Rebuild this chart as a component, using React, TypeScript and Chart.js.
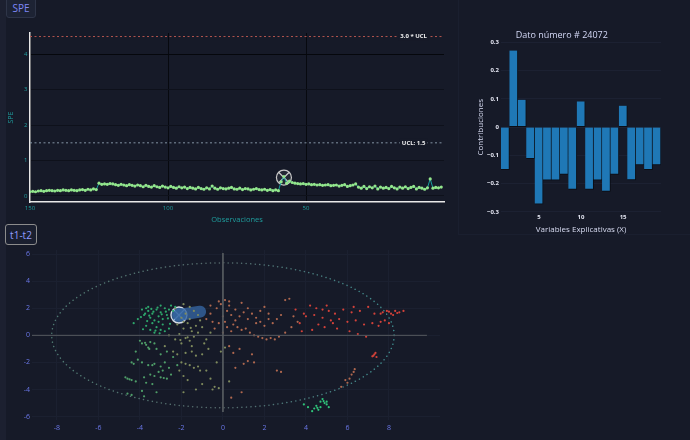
import React, { useEffect, useRef } from "react";
import { Chart, registerables } from "chart.js";

Chart.register(...registerables);

// ---------------- SPE control chart ----------------
const speFirstObs = 150;
const speValues = [
  0.12, 0.13, 0.12, 0.14, 0.15, 0.13, 0.15, 0.16, 0.15, 0.14,
  0.16, 0.15, 0.17, 0.16, 0.15, 0.17, 0.16, 0.15, 0.17, 0.18,
  0.16, 0.19, 0.17, 0.2, 0.18,
  0.36, 0.33, 0.34, 0.33, 0.35, 0.34, 0.32, 0.3, 0.33, 0.31,
  0.29, 0.32, 0.3, 0.28, 0.31, 0.29, 0.26, 0.3, 0.27, 0.25,
  0.29, 0.26, 0.24, 0.28, 0.25, 0.23, 0.27, 0.24, 0.22, 0.26,
  0.23, 0.25, 0.21, 0.24, 0.22,
  0.2, 0.24, 0.21, 0.19, 0.23, 0.2, 0.28, 0.22, 0.19, 0.23,
  0.21, 0.2, 0.22, 0.24, 0.2, 0.19, 0.22, 0.18, 0.21, 0.2,
  0.17, 0.19, 0.21, 0.18, 0.17, 0.19, 0.16, 0.18, 0.15, 0.17,
  0.15, 0.4, 0.55, 0.36, 0.42,
  0.38, 0.36, 0.35, 0.34, 0.35, 0.33, 0.34, 0.32, 0.33, 0.31,
  0.32, 0.3, 0.31, 0.32, 0.29, 0.3, 0.31, 0.28, 0.3, 0.32,
  0.27, 0.29, 0.31, 0.34, 0.25,
  0.22, 0.27, 0.21, 0.26, 0.23, 0.28, 0.2, 0.25, 0.22, 0.24,
  0.21, 0.27, 0.23, 0.2, 0.25, 0.22, 0.26, 0.21, 0.24, 0.27,
  0.2, 0.24, 0.22, 0.19, 0.23,
  0.48, 0.22, 0.24, 0.23, 0.25,
];
const speTicksX = [150, 100, 50];
const speTicksY = [0, 1, 2, 3, 4];
const uclValue = 1.5;
const uclMultValue = 4.5;
const limitLabels = ["3.0 * UCL", "UCL: 1.5"];
const limitLabelObs = 11;
const selectedObs = 58;
const selectedSpe = 0.52;

// ---------------- Contributions bar chart ----------------
const contribTitle = "Dato número # 24072";
const contribVars = [1, 2, 3, 4, 5, 6, 7, 8, 9, 10, 11, 12, 13, 14, 15, 16, 17, 18, 19];
const contribValues = [
  -0.151, 0.271, 0.097, -0.112, -0.273, -0.188, -0.188, -0.168, -0.221, 0.091,
  -0.221, -0.188, -0.228, -0.168, 0.076, -0.187, -0.134, -0.151, -0.134,
];
const contribTicksX = [5, 10, 15];
const contribTicksY = [-0.3, -0.2, -0.1, 0, 0.1, 0.2, 0.3];

// ---------------- Scores t1-t2 ----------------
const scoresGreen = [
  [-3.6, 1.8], [-3.4, 1.6], [-3.2, 1.9], [-3.0, 1.7], [-2.8, 2.0], [-3.5, 1.3], [-3.3, 1.1], [-3.1, 1.4], [-2.9, 1.2], [-2.7, 1.5],
  [-3.8, 1.5], [-3.9, 1.9], [-3.6, 2.1], [-3.0, 2.2], [-2.6, 1.9], [-2.5, 2.2], [-3.4, 0.9], [-3.2, 0.6], [-3.0, 0.4], [-3.5, 0.4],
  [-3.3, 0.2], [-2.8, 0.3], [-2.6, 0.5], [-4.3, 0.9], [-4.1, 1.2], [-3.7, 0.7], [-2.4, 1.8], [-2.3, 2.1], [-3.1, 1.0], [-2.9, 0.8],
  [-3.45, 1.95], [-3.15, 2.05], [-2.75, 1.75], [-3.65, 1.05], [-3.25, 0.35], [-3.75, 1.6], [-3.55, 1.45], [-3.35, 1.75], [-2.95, 1.55], [-2.65, 1.25],
  [-3.85, 0.45], [-3.05, 0.15], [-2.55, 0.85], [-3.7, 2.0], [-3.95, 1.35],
];
const scoresGreenLow = [
  [-3.9, -0.6], [-3.7, -0.7], [-3.5, -0.5], [-3.3, -0.6], [-4.0, -0.4], [-3.6, -0.9], [-3.2, -1.0], [-4.1, -1.8], [-3.9, -2.0], [-3.6, -2.2],
  [-3.3, -2.1], [-3.0, -2.3], [-2.8, -2.0], [-2.6, -2.4], [-4.4, -2.0], [-4.6, -3.2], [-4.4, -3.3], [-4.2, -3.4], [-3.8, -3.1], [-3.5, -2.9],
  [-3.3, -3.0], [-3.0, -3.1], [-2.7, -3.2], [-2.5, -2.9], [-4.6, -4.3], [-4.4, -4.4], [-3.9, -4.1], [-3.7, -3.5], [-3.4, -3.6], [-3.1, -2.7],
  [-2.9, -2.6], [-4.2, -1.2], [-3.0, -1.4], [-2.7, -1.2], [-2.4, -1.6], [-3.8, -4.5], [-3.2, -4.2], [-4.7, -3.1], [-4.5, -3.25], [-3.75, -0.55],
  [-3.4, -2.2], [-2.85, -3.15], [-4.3, -2.1], [-3.55, -1.0], [-2.2, -2.2],
];
const scoresOlive = [
  [-2.0, 1.3], [-1.8, 1.6], [-1.6, 1.2], [-1.4, 1.8], [-1.2, 1.5], [-2.2, 0.8], [-1.9, 0.5], [-1.7, 0.9], [-1.5, 0.3], [-1.3, 0.7],
  [-2.1, 0.1], [-1.8, -0.2], [-1.6, -0.4], [-1.4, -0.1], [-2.3, -0.3], [-2.0, -0.6], [-1.2, 0.2], [-1.0, 0.6], [-0.8, -0.3], [-0.6, 0.2],
  [-2.4, -1.2], [-2.2, -1.4], [-2.0, -2.0], [-1.8, -2.1], [-1.6, -2.2], [-1.4, -2.4], [-1.2, -2.3], [-1.0, -1.4], [-1.8, -1.3], [-1.5, -1.2],
  [-1.3, -1.5], [-2.1, -2.6], [-1.9, -3.0], [-1.7, -3.3], [-0.8, -2.6], [-0.6, -3.2], [-0.4, -3.8], [-0.2, -3.9], [-1.0, -3.6], [-1.3, -4.0],
  [-1.9, -4.2], [-0.3, -2.0], [-0.1, -1.2], [0.1, -0.9], [-1.1, -2.6], [-1.5, -0.8], [-0.9, -0.6], [-2.3, 2.0], [-1.9, 2.3], [-1.6, 2.1],
  [-2.6, 0.0], [-2.8, -0.8], [-1.9, 1.0], [-1.1, 1.1], [-1.7, -0.15], [-2.05, -0.35], [-1.55, 0.55], [-0.7, -1.0], [0.3, -3.4], [-0.5, -4.0],
];
const scoresSalmon = [
  [-0.8, 1.2], [-0.6, 1.6], [-0.5, 1.0], [-0.3, 2.0], [-0.1, 2.3], [0.1, 2.6], [0.3, 2.2], [0.2, 1.8], [0.0, 1.4], [-0.2, 0.9],
  [0.4, 1.5], [0.6, 1.9], [0.8, 1.4], [1.0, 1.7], [1.2, 2.0], [1.4, 1.6], [1.6, 1.3], [1.8, 1.8], [2.0, 2.1], [2.2, 1.6],
  [0.5, 0.8], [0.7, 0.6], [0.9, 0.4], [1.1, 0.5], [1.3, 0.2], [1.5, 0.0], [1.7, -0.1], [1.9, -0.2], [2.1, -0.3], [2.3, -0.2],
  [2.5, -0.3], [0.2, 0.6], [0.4, 0.3], [-0.4, 0.5], [0.0, 0.2], [2.6, 1.2], [2.8, 1.5], [3.0, 2.6], [3.2, 2.7], [2.4, 0.9],
  [2.0, 0.7], [1.6, 0.9], [1.2, 1.2], [0.9, 2.4], [0.3, 2.5], [-0.2, 2.5], [1.8, 1.0], [2.2, 1.2], [0.6, 1.1], [0.1, 1.0],
  [-0.6, 2.2], [3.4, 1.4], [3.6, 1.0], [3.3, 0.6], [3.0, 0.2], [2.7, -0.1], [0.8, -1.0], [0.5, -1.3], [0.3, -0.8], [1.2, -1.9],
  [1.5, -2.0], [1.0, -2.1], [0.6, -2.4], [1.4, -1.4], [6.2, -2.9], [6.3, -2.7], [6.35, -2.5], [6.1, -3.2], [6.0, -3.5], [5.7, -3.8],
  [5.9, -3.3], [2.6, -2.6], [2.8, -2.7], [0.9, -4.2], [0.4, -4.6],
];
const scoresRed = [
  [4.2, 2.2], [4.5, 2.0], [4.8, 1.9], [5.1, 1.8], [5.4, 1.6], [5.8, 1.9], [6.2, 1.7], [6.6, 1.8], [7.0, 2.1], [7.3, 1.6],
  [4.0, 1.4], [4.4, 1.5], [4.8, 1.3], [5.2, 1.1], [5.6, 1.2], [6.0, 1.0], [6.4, 1.1], [6.8, 0.8], [7.2, 0.9], [7.6, 1.0],
  [8.0, 0.9], [7.8, 1.1], [7.5, 0.7], [3.8, 0.3], [4.3, 0.4], [4.9, 0.6], [5.5, 0.5], [6.1, 0.3], [6.5, 0.1], [6.9, -0.1],
  [7.7, 1.7], [7.9, 1.8], [8.1, 1.6], [8.3, 1.8], [8.5, 1.7], [8.7, 1.8], [8.2, 1.5], [7.6, 1.6], [8.0, 1.75], [8.4, 1.65],
  [7.3, -1.4], [7.25, -1.5], [7.4, -1.6], [7.35, -1.3], [7.2, -1.55], [3.5, 1.9], [3.9, 1.6], [5.0, 2.2], [6.3, 2.1], [5.3, 0.9],
  [4.6, 0.8], [3.7, 0.9],
];
const scoresTeal = [
  [4.4, -5.4], [4.5, -5.2], [4.6, -5.5], [4.7, -4.9], [4.8, -4.7], [4.9, -5.0], [5.0, -5.1], [5.1, -5.3], [4.3, -5.6], [4.7, -5.3],
  [4.85, -4.85], [5.0, -4.9], [4.55, -5.35], [3.9, -5.1], [4.1, -5.3],
];
const zeroLineH = [[-9.2, 0], [9.83, 0]];
const zeroLineV = [[0, 6.07], [0, -5.66]];
const ellipseRadiusX = 8.25;
const ellipseRadiusY = 5.35;
const selectedTrail = [[-2.12, 1.5], [-1.1, 1.75]];
const selectedScore = [-2.12, 1.5];
const scoreTicksX = [-8, -6, -4, -2, 0, 2, 4, 6, 8];
const scoreTicksY = [-6, -4, -2, 0, 2, 4, 6];

// ---------------- styles ----------------
const BG = "#161a28";
const FONT = "'Open Sans', 'Noto Sans', sans-serif";
const TEAL = "#1f9e9e";

const toXY = (arr: number[][]) => arr.map(([x, y]) => ({ x, y }));

const speLabelPlugin = {
  id: "speLabels",
  afterDatasetsDraw(chart: any) {
    const { ctx, scales } = chart;
    const px = scales.x.getPixelForValue(limitLabelObs);
    const items: [number, string][] = [
      [uclMultValue, limitLabels[0]],
      [uclValue, limitLabels[1]],
    ];
    ctx.save();
    ctx.font = `bold 6px ${FONT}`;
    items.forEach(([v, t]) => {
      const py = scales.y.getPixelForValue(v);
      const w = ctx.measureText(t).width;
      ctx.fillStyle = BG;
      ctx.fillRect(px - w / 2 - 2, py - 4, w + 4, 8);
      ctx.fillStyle = "#f2f2f2";
      ctx.textAlign = "center";
      ctx.textBaseline = "middle";
      ctx.fillText(t, px, py);
    });
    ctx.restore();
  },
};

const barTitlePlugin = {
  id: "barTitle",
  afterDraw(chart: any) {
    const { ctx, chartArea } = chart;
    ctx.save();
    ctx.font = `9px ${FONT}`;
    ctx.fillStyle = "#d3d8f6";
    ctx.textAlign = "center";
    ctx.textBaseline = "middle";
    ctx.fillText(contribTitle, chartArea.left + (chartArea.right - chartArea.left) * 0.38, chartArea.top - 6);
    ctx.restore();
  },
};

const ellipsePlugin = {
  id: "ellipse",
  beforeDatasetsDraw(chart: any) {
    const { ctx, scales } = chart;
    const cx = scales.x.getPixelForValue(0);
    const cy = scales.y.getPixelForValue(0);
    const rx = scales.x.getPixelForValue(ellipseRadiusX) - cx;
    const ry = cy - scales.y.getPixelForValue(ellipseRadiusY);
    ctx.save();
    const g = ctx.createLinearGradient(cx - rx, 0, cx + rx, 0);
    g.addColorStop(0, "#4f7a72");
    g.addColorStop(0.5, "#566a6c");
    g.addColorStop(1, "#3f8f90");
    ctx.strokeStyle = g;
    ctx.lineWidth = 1.5;
    ctx.lineCap = "round";
    ctx.setLineDash([0.1, 4.4]);
    ctx.beginPath();
    ctx.ellipse(cx, cy, rx, ry, 0, 0, Math.PI * 2);
    ctx.stroke();
    ctx.restore();
  },
};

function speConfig(): any {
  const speData = speValues.map((v, i) => ({ x: speFirstObs - i, y: v }));
  const sel = [{ x: selectedObs, y: selectedSpe }];
  return {
    type: "line",
    data: {
      datasets: [
        { data: [{ x: 150, y: uclMultValue }, { x: 0, y: uclMultValue }], borderColor: "#b4554f", borderWidth: 1, borderDash: [2, 2.5], pointRadius: 0 },
        { data: [{ x: 150, y: uclValue }, { x: 0, y: uclValue }], borderColor: "#8394a4", borderWidth: 1, borderDash: [2, 2.5], pointRadius: 0 },
        { data: speData, borderColor: "#17a0a0", borderWidth: 1, pointRadius: 1.6, pointBackgroundColor: "#93e68c", pointBorderWidth: 0 },
        { data: sel, showLine: false, pointStyle: "circle", pointRadius: 7.5, pointBackgroundColor: "rgba(255,255,255,0.06)", pointBorderColor: "#c9c9c9", pointBorderWidth: 1.2 },
        { data: sel, showLine: false, pointStyle: "crossRot", pointRadius: 7.5, pointBorderColor: "#c9c9c9", pointBorderWidth: 1.2 },
      ],
    },
    options: {
      animation: false,
      responsive: false,
      layout: { padding: { top: 33, right: 11, left: 0, bottom: 0 } },
      plugins: { legend: { display: false }, tooltip: { enabled: false } },
      scales: {
        x: {
          type: "linear",
          reverse: true,
          min: 0,
          max: 150,
          afterBuildTicks: (a: any) => { a.ticks = speTicksX.map((value) => ({ value })); },
          afterFit: (a: any) => { a.height = 23; },
          grid: { color: "#07090f", drawTicks: false },
          border: { display: true, color: "#e8e8e8", width: 1.5 },
          ticks: { color: TEAL, font: { size: 6 }, padding: 2.5, maxRotation: 0 },
          title: { display: true, text: "Observaciones", color: TEAL, font: { size: 7.5 }, padding: { top: 0, bottom: 1 } },
        },
        y: {
          min: -0.17,
          max: 4.6,
          afterBuildTicks: (a: any) => { a.ticks = speTicksY.map((value) => ({ value })); },
          afterFit: (a: any) => { a.width = 30; },
          grid: { color: (c: any) => (c.tick && c.tick.value === 4 ? "#05070c" : "#0e111b"), drawTicks: false },
          border: { display: true, color: "#e8e8e8", width: 1.5 },
          ticks: { color: TEAL, font: { size: 6 }, padding: 2.5 },
          title: { display: true, text: "SPE", color: TEAL, font: { size: 7 }, padding: { top: 6.5, bottom: 0 } },
        },
      },
    },
    plugins: [speLabelPlugin],
  };
}

function barConfig(): any {
  return {
    type: "bar",
    data: {
      labels: contribVars.map(String),
      datasets: [
        { data: contribValues, backgroundColor: "#1f78b6", borderColor: "#0b0e15", borderWidth: { right: 1, bottom: 1, left: 0, top: 0 }, borderSkipped: false, barPercentage: 1, categoryPercentage: 1 },
      ],
    },
    options: {
      animation: false,
      responsive: false,
      layout: { padding: { top: 41, right: 29, left: 0, bottom: 0 } },
      plugins: { legend: { display: false }, tooltip: { enabled: false } },
      scales: {
        x: {
          grid: { display: false, drawTicks: false },
          border: { display: false },
          afterFit: (a: any) => { a.height = 21.5; },
          ticks: {
            autoSkip: false,
            maxRotation: 0,
            padding: 0.5,
            color: "#e4e6f2",
            font: { size: 6, weight: "bold" },
            callback: (_v: any, i: number) => (contribTicksX.includes(contribVars[i]) ? String(contribVars[i]) : ""),
          },
          title: { display: true, text: "Variables Explicativas (X)", color: "#d6daf0", font: { size: 8 }, padding: { top: 0, bottom: 0 } },
        },
        y: {
          min: -0.306,
          max: 0.305,
          afterBuildTicks: (a: any) => { a.ticks = contribTicksY.map((value) => ({ value })); },
          afterFit: (a: any) => { a.width = 43; },
          grid: { color: "#1c2132", drawTicks: false },
          border: { display: false },
          ticks: {
            color: "#e4e6f2",
            font: { size: 6, weight: "bold" },
            padding: 2,
            callback: (v: number) => (Math.abs(v) < 1e-9 ? "0" : (v < 0 ? "\u2212" : "") + Math.abs(v).toFixed(1)),
          },
          title: { display: true, text: "Contribuciones", color: "#d6daf0", font: { size: 8 }, padding: { top: 18, bottom: 0 } },
        },
      },
    },
    plugins: [barTitlePlugin],
  };
}

function scoreConfig(): any {
  const pts = (data: number[][], color: string) => ({
    data: toXY(data), showLine: false, pointRadius: 1.1, pointBackgroundColor: color, pointBorderWidth: 0,
  });
  const sel = toXY([selectedScore]);
  return {
    type: "scatter",
    data: {
      datasets: [
        { data: toXY(zeroLineH), showLine: true, borderColor: "#565a5e", borderWidth: 1, pointRadius: 0 },
        { data: toXY(zeroLineV), showLine: true, borderColor: "#565a5e", borderWidth: 1, pointRadius: 0 },
        pts(scoresGreen, "#2ea86c"),
        pts(scoresGreenLow, "#4f9f69"),
        pts(scoresOlive, "#7f8b5d"),
        pts(scoresSalmon, "#b0684f"),
        pts(scoresRed, "#d4423a"),
        pts(scoresTeal, "#2fc47a"),
        { data: toXY(selectedTrail), showLine: true, borderColor: "rgba(52,100,160,0.8)", borderWidth: 12, borderCapStyle: "round", pointRadius: 0 },
        { data: sel, showLine: false, pointStyle: "circle", pointRadius: 8, pointBackgroundColor: "rgba(70,135,205,0.6)", pointBorderColor: "#d6dce6", pointBorderWidth: 1.3 },
        { data: sel, showLine: false, pointStyle: "crossRot", pointRadius: 8, pointBorderColor: "#e6ecf4", pointBorderWidth: 1.3 },
      ],
    },
    options: {
      animation: false,
      responsive: false,
      layout: { padding: { top: 25, right: 18, left: 0, bottom: 0 } },
      plugins: { legend: { display: false }, tooltip: { enabled: false } },
      scales: {
        x: {
          type: "linear",
          min: -9.2,
          max: 10.46,
          afterBuildTicks: (a: any) => { a.ticks = scoreTicksX.map((value) => ({ value })); },
          afterFit: (a: any) => { a.height = 20; },
          grid: { color: "#1b2030", drawTicks: false },
          border: { display: false },
          ticks: { color: "#6b78ea", font: { size: 7 }, padding: 3.5, maxRotation: 0 },
        },
        y: {
          min: -6.25,
          max: 6.3,
          afterBuildTicks: (a: any) => { a.ticks = scoreTicksY.map((value) => ({ value })); },
          afterFit: (a: any) => { a.width = 32; },
          grid: { color: "#1b2030", drawTicks: false },
          border: { display: false },
          ticks: { color: "#6b78ea", font: { size: 7 }, padding: 2 },
        },
      },
    },
    plugins: [ellipsePlugin],
  };
}

const btnBase: React.CSSProperties = {
  position: "absolute",
  boxSizing: "border-box",
  display: "flex",
  alignItems: "center",
  justifyContent: "center",
  fontFamily: FONT,
  fontSize: 10,
  borderRadius: 3,
};

export default function App() {
  const speRef = useRef<HTMLCanvasElement>(null);
  const barRef = useRef<HTMLCanvasElement>(null);
  const scoreRef = useRef<HTMLCanvasElement>(null);

  useEffect(() => {
    document.body.style.margin = "0";
    document.body.style.background = BG;
    Chart.defaults.font.family = FONT;
    const charts = [
      new Chart(speRef.current as HTMLCanvasElement, speConfig()),
      new Chart(barRef.current as HTMLCanvasElement, barConfig()),
      new Chart(scoreRef.current as HTMLCanvasElement, scoreConfig()),
    ];
    return () => charts.forEach((c) => c.destroy());
  }, []);

  return (
    <div style={{ position: "relative", width: 690, height: 440, background: BG, overflow: "hidden" }}>
      <div style={{ position: "absolute", left: 0, top: 0, width: 6, height: 440, background: "#1c2030" }} />
      <div style={{ position: "absolute", left: 458, top: 0, width: 232, height: 235, boxSizing: "border-box", borderLeft: "1px solid #1a1f2f", borderBottom: "1px solid #1a1f2f" }} />
      <canvas ref={speRef} width={455} height={225} style={{ position: "absolute", left: 0, top: 0 }} />
      <canvas ref={barRef} width={232} height={235} style={{ position: "absolute", left: 458, top: 0 }} />
      <canvas ref={scoreRef} width={458} height={215} style={{ position: "absolute", left: 0, top: 225 }} />
      <div style={{ ...btnBase, left: 6, top: -3, width: 30, height: 21, background: "#1d2334", border: "1px solid #2e3548", color: "#7e87f7" }}>SPE</div>
      <div style={{ ...btnBase, left: 5, top: 224, width: 32, height: 21, background: "#1a1f2f", border: "1.5px solid #8c8c8c", color: "#8f9bff" }}>t1-t2</div>
    </div>
  );
}
